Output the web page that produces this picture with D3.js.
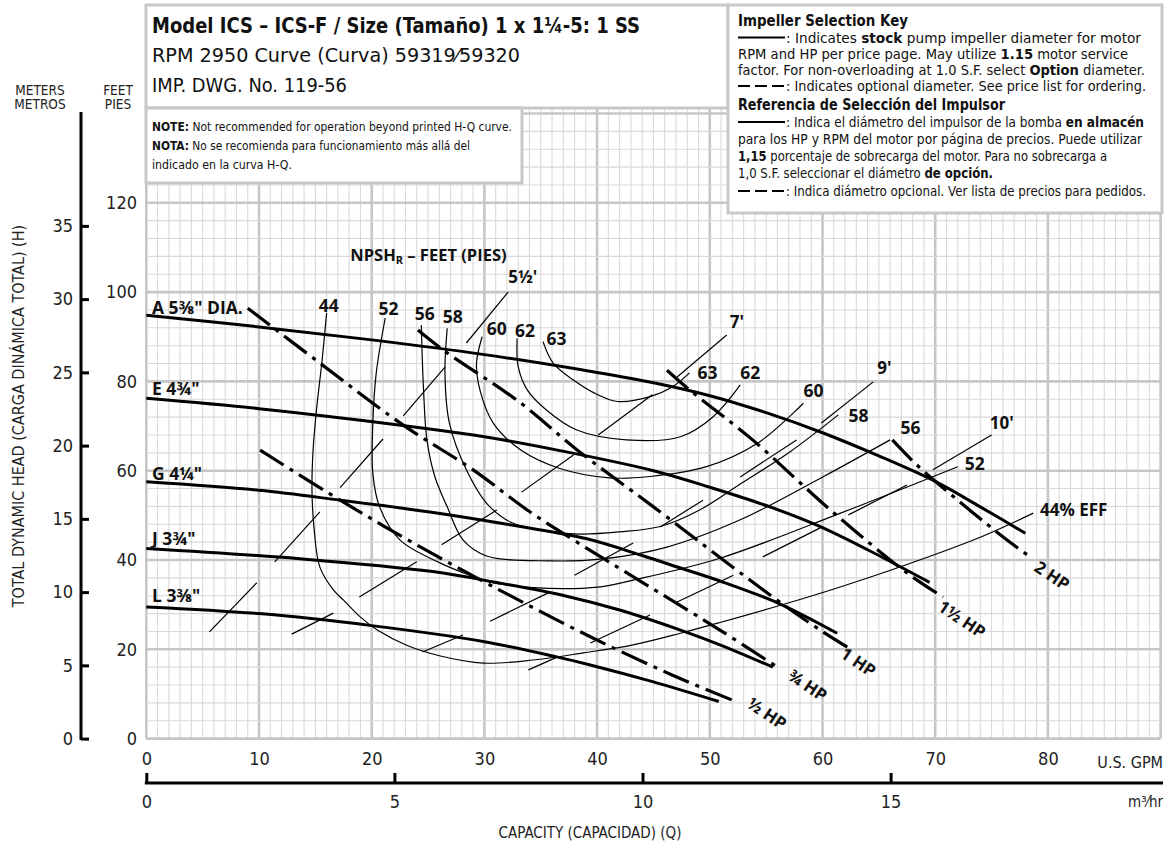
<!DOCTYPE html>
<html><head><meta charset="utf-8">
<script src="https://cdn.jsdelivr.net/npm/d3@7"></script>
<style>body{margin:0;background:#fff}svg{display:block}</style>
</head><body>
<svg id="c" width="1169" height="850"></svg>
<script>
// ---------------- DATA ----------------
const gpmTicks = [0,10,20,30,40,50,60,70,80];
const feetTicks = [0,20,40,60,80,100,120];
const meterTicks = [0,5,10,15,20,25,30,35];
const m3hTicks = [0,5,10,15];

// head-capacity curves  [GPM, feet]
const headA = [[0,94.8],[10,92.2],[20,89.3],[30,86.0],[40,82.0],[45,79.7],[50,76.8],[55,73.0],[60,68.5],[65,63.3],[70,57.6],[74,51.9],[78,46.0]];
const headE = [[0,76.2],[10,73.9],[19,71.3],[30,67.6],[36.7,64.5],[45,60.0],[50,56.3],[55,52.2],[59.5,47.8],[64,42.3],[69.5,35.0]];
const headG = [[0,57.5],[10,55.6],[17.2,53.4],[25,50.8],[32,48.0],[39,44.8],[44,41.0],[47.4,38.2],[50.9,35.3],[56.2,30.2],[61.3,23.6]];
const headJ = [[0,42.6],[13.6,40.3],[25.4,37.4],[31,35.0],[37.3,31.9],[42,28.8],[47.4,24.3],[50.9,21.0],[55.6,16.0]];
const headL = [[0,29.5],[10,28.0],[20,25.3],[30,21.7],[36.4,18.3],[39.4,16.5],[45,12.7],[50.8,8.3]];
const headNames = ["A 5⅜\" DIA.","E 4¾\"","G 4¼\"","J 3¾\"","L 3⅜\""];
const headLabelY = [96.6,78.5,59.5,44.9,32.2];

// efficiency curves [GPM, feet]
const eff44 = [[16.0,95.3],[15.6,84.8],[15.1,73.6],[14.8,64.7],[14.7,55.7],[14.9,46.7],[15.4,38.4],[16.6,33.3],[17.5,31.0],[19.0,27.2],[20.5,24.3],[23.1,20.9],[26.1,18.5],[29.9,16.9],[34.3,17.6],[38.8,19.2],[43.2,21.0],[47.4,23.6],[50.9,26.0],[56.2,29.8],[61.5,33.9],[66.6,38.2],[74.0,45.1],[78.7,50.5]];
const eff52 = [[21.2,94.2],[20.4,81.8],[20.1,70.6],[20.1,59.4],[20.7,51.9],[22.5,44.5],[26.1,39.3],[29.0,36.3],[30.2,35.2],[34.3,33.8],[40.3,34.0],[43.2,35.5],[50.9,40.4],[61.6,50.5],[72.0,60.9]];
const eff56 = [[24.4,92.6],[24.6,78.1],[24.9,66.9],[25.6,58.7],[26.7,51.9],[28.1,44.5],[30.2,40.9],[35.8,39.8],[40.3,40.2],[46.2,42.9],[52.7,49.0],[60.1,58.7],[66.0,66.9]];
const eff58 = [[26.7,91.9],[26.5,81.8],[26.9,70.6],[28.4,60.2],[30.2,52.7],[32.3,48.5],[34.9,46.7],[38.5,45.8],[42.0,46.3],[45.6,47.5],[49.1,51.2],[52.7,57.0],[57.1,64.2],[61.4,72.5]];
const eff60 = [[29.8,90.0],[29.3,84.1],[29.6,78.1],[30.8,70.6],[33.2,64.7],[36.7,60.5],[41.1,58.4],[44.7,58.7],[49.7,60.9],[54.2,66.1],[57.4,72.9],[58.3,75.1]];
const eff62 = [[32.9,89.6],[33.0,83.3],[33.8,78.1],[35.5,73.6],[38.2,69.1],[42.6,66.9],[47.4,67.6],[50.3,72.1],[52.7,79.2]];
const eff63 = [[35.2,88.9],[36.1,84.1],[37.9,80.3],[39.6,77.6],[41.8,75.5],[44.7,76.6],[46.7,78.8],[48.2,81.9]];
const effLeftLabels = [["44",16.2,97.1],["52",21.5,96.4],["56",24.7,95.3],["58",27.2,94.6],["60",31.1,92.0],["62",33.6,91.5],["63",36.4,89.7]];
const effRightLabels = [["63",49.8,82.1],["62",53.6,82.1],["60",59.2,78.1],["58",63.2,72.5],["56",67.8,69.8],["52",73.5,61.7]];

// motor HP (non-overloading) lines [GPM, feet]
const hpHalf = [[10.1,64.6],[17.2,53.4],[23.7,43.8],[30.5,34.4],[39.4,22.8],[46.7,14.2],[52.4,8.2]];
const hpThreeQ = [[9.0,96.4],[15.4,84.1],[22.8,70.2],[29.0,60.2],[33.8,51.2],[37.9,44.5],[50.9,24.3],[56.0,16.0]];
const hpOne = [[24.1,91.5],[26.3,87.1],[33.2,75.2],[38.2,64.7],[45.0,51.9],[55.6,31.7],[59.8,24.3],[62.2,20.5]];
const hpOneHalf = [[46.2,82.5],[48.2,78.1],[53.8,66.9],[60.7,51.2],[67.5,37.1],[70.7,31.7]];
const hpTwo = [[66.2,66.9],[68.2,61.7],[70.4,56.8],[76.0,45.2],[78.2,41.1]];
const hpLabels = [["½ HP",55.1,5.7],["¾ HP",58.7,12.0],["1 HP",63.2,17.2],["1½ HP",72.4,26.8],["2 HP",80.4,36.6]];

// NPSHr lines (dash segments) [GPM, feet]
const npsh55 = [[[32.1,100.0],[28.4,88.6]],[[26.5,83.2],[22.8,72.3]],[[21.0,67.1],[17.2,56.2]],[[15.4,50.8],[11.4,39.6]],[[9.8,34.9],[5.6,23.9]]];
const npsh7 = [[[51.5,90.4],[47.1,81.0]],[[44.9,77.0],[40.1,68.0]],[[37.9,63.5],[33.3,55.2]],[[31.1,51.2],[26.2,43.4]],[[24.0,39.6],[18.9,31.7]],[[16.6,28.1],[12.9,23.4]]];
const npsh9 = [[[64.5,79.9],[59.9,70.7]],[[57.7,66.9],[52.7,58.6]],[[49.4,53.4],[45.6,47.4]],[[43.2,43.8],[38.0,36.6]],[[35.8,32.8],[30.5,26.3]],[[28.1,23.2],[24.5,19.4]]];
const npsh10 = [[[75.0,68.0],[69.8,60.2]],[[67.5,56.8],[62.3,50.1]],[[59.8,47.2],[54.7,40.7]],[[52.1,36.6],[47.1,30.6]],[[44.7,27.7],[39.4,21.4]],[[36.5,18.3],[33.9,15.4]]];
const npshLabels = [["5½'",33.4,103.4],["7'",52.4,93.4],["9'",65.5,83.1],["10'",75.9,70.7]];

// ---------------- CHART ----------------
const svg = d3.select("#c");
const NARROW = "'Liberation Sans Narrow','Arial Narrow','DejaVu Sans Condensed',sans-serif";
const BOLD = "'Open Sans','DejaVu Sans',sans-serif";
const x = d3.scaleLinear().domain([0,90]).range([146.3,1160.6]);
const y = d3.scaleLinear().domain([0,120]).range([738.6,202.8]);
const yM = d3.scaleLinear().domain([0,120/3.28084]).range([738.6,202.8]);
const xM = d3.scaleLinear().domain([0,90/4.40287]).range([146.3,1160.6]);

// grid
const grid = svg.append("g");
const yTop = y(164);
grid.selectAll("line.v").data(d3.range(0,91)).join("line")
  .attr("x1",d=>x(d)).attr("x2",d=>x(d)).attr("y1",yTop).attr("y2",y(0))
  .attr("stroke",d=>d%10===0?"#c6c6c6":"#d9d9d9").attr("stroke-width",d=>d%10===0?2.6:1.1);
grid.selectAll("line.h").data(d3.range(0,165,4)).join("line")
  .attr("y1",d=>y(d)).attr("y2",d=>y(d)).attr("x1",x(0)).attr("x2",x(90))
  .attr("stroke",d=>d%20===0?"#c6c6c6":"#d9d9d9").attr("stroke-width",d=>d%20===0?2.6:1.1);

const line = d3.line().x(d=>x(d[0])).y(d=>y(d[1])).curve(d3.curveCatmullRom.alpha(0.5));
const seg = d3.line().x(d=>x(d[0])).y(d=>y(d[1]));
const plot = svg.append("g").attr("fill","none").attr("stroke","#000");

[eff44,eff52,eff56,eff58,eff60,eff62,eff63].forEach(c=>{
  plot.append("path").attr("d",line(c)).attr("stroke-width",1.2);
});
[npsh55,npsh7,npsh9,npsh10].forEach(set=>{
  set.forEach(s=>plot.append("path").attr("d",seg(s)).attr("stroke-width",1.2));
});
[headA,headE,headG,headJ,headL].forEach(c=>{
  plot.append("path").attr("d",line(c)).attr("stroke-width",3);
});
[hpHalf,hpThreeQ,hpOne,hpOneHalf,hpTwo].forEach(c=>{
  plot.append("path").attr("d",line(c)).attr("stroke-width",3.2).attr("stroke-dasharray","28,7,4,7");
});

// chart labels
const lab = svg.append("g").attr("font-family",BOLD).attr("font-weight",700).attr("fill","#111");
headNames.forEach((n,i)=>{
  lab.append("text").attr("x",152).attr("y",y(headLabelY[i])).attr("dominant-baseline","central").attr("font-size",17.5).text(n);
});
effLeftLabels.concat(effRightLabels).forEach(d=>{
  lab.append("text").attr("x",x(d[1])).attr("y",y(d[2])).attr("text-anchor","middle").attr("dominant-baseline","central").attr("font-size",17.5).text(d[0]);
});
lab.append("text").attr("x",x(79.3)).attr("y",y(51.4)).attr("dominant-baseline","central").attr("font-size",17).text("44% EFF");
npshLabels.forEach(d=>{
  lab.append("text").attr("x",x(d[1])).attr("y",y(d[2])).attr("text-anchor","middle").attr("dominant-baseline","central").attr("font-size",17).text(d[0]);
});
const np = lab.append("text").attr("x",x(18.1)).attr("y",y(108.5)).attr("dominant-baseline","central").attr("font-size",16.5);
np.append("tspan").text("NPSH");
np.append("tspan").attr("font-size",11).attr("dy",5).text("R");
np.append("tspan").attr("dy",-5).text(" – FEET (PIES)");
hpLabels.forEach(d=>{
  lab.append("text").attr("transform",`translate(${x(d[1])},${y(d[2])}) rotate(34)`)
    .attr("text-anchor","middle").attr("dominant-baseline","central").attr("font-size",17).text(d[0]);
});

// axes
const axTxt = g=>g.selectAll("text").attr("font-family",NARROW).attr("font-size",18).attr("fill","#222");
const gFeet = svg.append("g").attr("transform","translate(140,0)")
  .call(d3.axisLeft(y).tickValues(feetTicks).tickSize(0).tickPadding(3));
gFeet.select(".domain").remove(); axTxt(gFeet);
const gGpm = svg.append("g").attr("transform","translate(0,748)")
  .call(d3.axisBottom(x).tickValues(gpmTicks).tickSize(0).tickPadding(4));
gGpm.select(".domain").remove(); axTxt(gGpm);
const gMet = svg.append("g").attr("transform","translate(81,0)")
  .call(d3.axisLeft(yM).tickValues(meterTicks).tickSizeInner(-8).tickSizeOuter(0).tickPadding(8));
gMet.select(".domain").remove(); axTxt(gMet);
gMet.selectAll(".tick line").attr("stroke","#000").attr("stroke-width",3);
svg.append("line").attr("x1",81).attr("x2",81).attr("y1",112).attr("y2",y(0)+1.5).attr("stroke","#000").attr("stroke-width",3);
const gM3 = svg.append("g").attr("transform","translate(0,783)")
  .call(d3.axisBottom(xM).tickValues(m3hTicks).tickSizeInner(-10).tickSizeOuter(0).tickPadding(12));
gM3.select(".domain").remove(); axTxt(gM3);
gM3.selectAll(".tick line").attr("stroke","#000").attr("stroke-width",3);
svg.append("line").attr("x1",x(0)-1.5).attr("x2",1163).attr("y1",783).attr("y2",783).attr("stroke","#000").attr("stroke-width",3);

const small = svg.append("g").attr("font-family",NARROW).attr("fill","#222");
small.append("text").attr("x",1163).attr("y",762).attr("text-anchor","end").attr("dominant-baseline","central").attr("font-size",16).text("U.S. GPM");
small.append("text").attr("x",1163).attr("y",802).attr("text-anchor","end").attr("dominant-baseline","central").attr("font-size",15).text("m³⁄hr");
small.append("text").attr("x",590).attr("y",833).attr("text-anchor","middle").attr("dominant-baseline","central").attr("font-size",15).text("CAPACITY (CAPACIDAD) (Q)");
small.append("text").attr("transform","translate(18,416) rotate(-90)").attr("text-anchor","middle").attr("dominant-baseline","central").attr("font-size",16).text("TOTAL DYNAMIC HEAD (CARGA DINÁMICA TOTAL) (H)");
[["METERS",40,90],["METROS",40,104],["FEET",118,90],["PIES",118,104]].forEach(d=>{
  small.append("text").attr("x",d[1]).attr("y",d[2]).attr("text-anchor","middle").attr("dominant-baseline","central").attr("font-size",13.5).text(d[0]);
});

// boxes
const box = svg.append("g");
box.append("rect").attr("x",146).attr("y",5).attr("width",582).attr("height",103).attr("fill","#fff").attr("stroke","#c8c8c8").attr("stroke-width",3);
box.append("rect").attr("x",146).attr("y",108).attr("width",376).attr("height",75).attr("fill","#fff").attr("stroke","#c8c8c8").attr("stroke-width",3);
box.append("rect").attr("x",728).attr("y",5).attr("width",434).attr("height",208).attr("fill","#fff").attr("stroke","#c8c8c8").attr("stroke-width",3);

function rich(g,x0,y0,parts,size,len){
  const t = g.append("text").attr("x",x0).attr("y",y0).attr("dominant-baseline","central").attr("font-size",size).attr("font-family",NARROW).attr("fill","#111");
  parts.forEach(p=>t.append("tspan").attr("font-weight",p[1]?700:400).text(p[0]));
  if(len) t.attr("textLength",len).attr("lengthAdjust","spacingAndGlyphs");
  return t;
}
rich(box,152,25,[["Model ICS – ICS-F / Size (Tamaño) 1 x 1¼-5: 1 SS",1]],22,488);
rich(box,152,55,[["RPM 2950 Curve (Curva) 59319⁄59320",0]],20,368);
rich(box,152,85,[["IMP. DWG. No. 119-56",0]],20,195);
rich(box,152,126,[["NOTE:",1],[" Not recommended for operation beyond printed H-Q curve.",0]],13,360);
rich(box,152,145,[["NOTA:",1],[" No se recomienda para funcionamiento más allá del",0]],13,318);
rich(box,152,164,[["indicado en la curva H-Q.",0]],13,140);

const kx = 738;
const keyLines = [
  [21,[["Impeller Selection Key",1]],15,170,null],
  [37.5,[[": Indicates ",0],["stock",1],[" pump impeller diameter for motor",0]],13.5,355,"solid"],
  [54,[["RPM and HP per price page. May utilize ",0],["1.15",1],[" motor service",0]],13.5,390,null],
  [70,[["factor. For non-overloading at 1.0 S.F. select ",0],["Option",1],[" diameter.",0]],13.5,407,null],
  [86,[[": Indicates optional diameter. See price list for ordering.",0]],13.5,360,"dash"],
  [105,[["Referencia de Selección del Impulsor",1]],15,267,null],
  [122,[[": Indica el diámetro del impulsor de la bomba ",0],["en almacén",1]],13.5,358,"solid"],
  [139,[["para los HP y RPM del motor por página de precios. Puede utilizar",0]],13.5,404,null],
  [156,[["1,15",1],[" porcentaje de sobrecarga del motor. Para no sobrecarga a",0]],13.5,369,null],
  [173,[["1,0 S.F. seleccionar el diámetro ",0],["de opción.",1]],13.5,255,null],
  [191,[[": Indica diámetro opcional. Ver lista de precios para pedidos.",0]],13.5,360,"dash"]
];
keyLines.forEach(k=>{
  let tx = kx;
  if(k[4]){
    box.append("line").attr("x1",kx).attr("x2",kx+47).attr("y1",k[0]).attr("y2",k[0]).attr("stroke","#000").attr("stroke-width",2)
      .attr("stroke-dasharray",k[4]==="dash"?"12,5":null);
    tx = kx+48;
  }
  rich(box,tx,k[0],k[1],k[2],k[3]);
});
</script>
</body></html>
